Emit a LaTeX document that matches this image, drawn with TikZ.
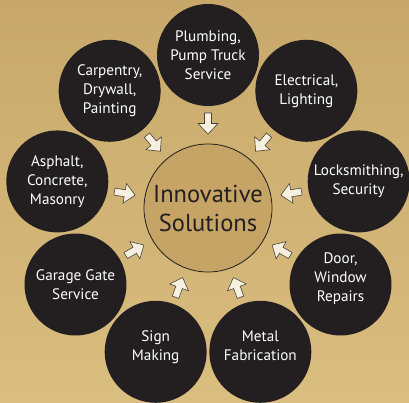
\documentclass[tikz,border=0pt]{standalone}
\usepackage{fontspec}
\setmainfont{PT Sans}
\definecolor{bgtop}{RGB}{199,168,106}
\definecolor{bgbot}{RGB}{218,190,127}
\definecolor{hubfill}{RGB}{197,164,101}
\definecolor{discfill}{RGB}{35,31,32}
\definecolor{arrowfill}{RGB}{245,240,224}
\definecolor{arrowline}{RGB}{75,65,55}
\begin{document}
\begin{tikzpicture}[x=1pt,y=1pt,
  disctext/.style={text=white,align=center,inner sep=0pt,font=\fontsize{15.2}{19}\selectfont},
  disc/.style={circle,fill=discfill,minimum size=102pt,inner sep=0pt,disctext},
  hub/.style={circle,fill=hubfill,draw=discfill,line width=0.8pt,minimum size=128pt,
    inner sep=0pt,align=center,text=discfill,font=\fontsize{24.5}{29}\selectfont},
  blockarrow/.style={fill=arrowfill,draw=arrowline,line width=0.6pt,line join=miter}]
\useasboundingbox (-208,-194) rectangle (201,208);
\shade[top color=bgtop,bottom color=bgbot] (-208,-194) rectangle (201,208);
\node[hub] (hub) at (0,0) {Innovative\\Solutions};
\node[disc] (n1) at (90:153pt) {Plumbing,\\Pump Truck\\Service};
\node[disc] (n2) at (50:153pt) {Electrical,\\Lighting};
\node[disc] (n3) at (10:153pt) {Locksmithing,\\Security};
\node[disc,label={[disctext,yshift=6pt]center:{Door,\\Window\\Repairs}}] (n4) at (-30:153pt) {};
\node[disc,label={[disctext,yshift=6pt]center:{Metal\\Fabrication}}] (n5) at (-70:153pt) {};
\node[disc,label={[disctext,yshift=5pt]center:{Sign\\Making}}] (n6) at (-110:153pt) {};
\node[disc] (n7) at (-150:153pt) {Garage Gate\\Service};
\node[disc] (n8) at (170:153pt) {Asphalt,\\Concrete,\\Masonry};
\node[disc] (n9) at (130:153pt) {Carpentry,\\Drywall,\\Painting};
\foreach \a in {90,50,10,-30,-70,-110,-150,170,130}{
  \draw[blockarrow,shift={(hub.center)},rotate=\a]
    (95,3.5) -- (84.5,3.5) -- (84.5,10) -- (74,0) -- (84.5,-10) -- (84.5,-3.5) -- (95,-3.5) -- cycle;
}
\end{tikzpicture}
\end{document}
